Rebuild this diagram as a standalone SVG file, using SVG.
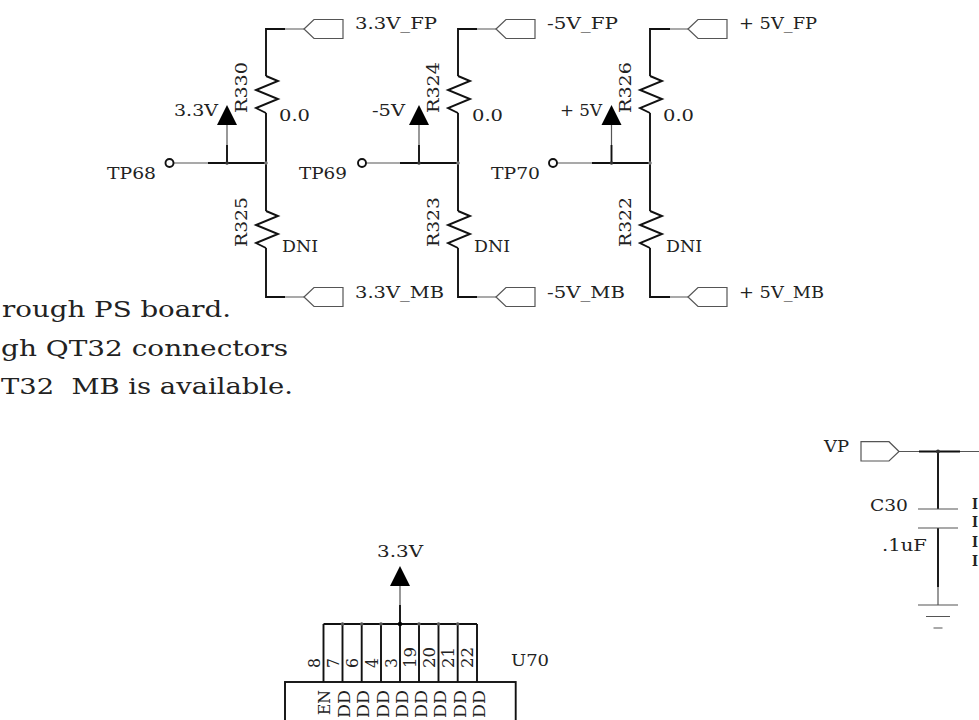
<svg xmlns="http://www.w3.org/2000/svg" width="979" height="720" viewBox="0 0 979 720">
<defs>
<style>
.w{fill:none;stroke:#111;stroke-width:1.9}
.t{fill:none;stroke:#555;stroke-width:1.2}
.a{fill:#000}
text{font-family:"DejaVu Serif","Liberation Serif",serif;font-size:17.5px;fill:#222}
.n{font-size:23px}
.c{font-weight:bold;font-size:14px}
</style>
<g id="res"><path class="w" d="M0 0L12 5L-10 14L12 23L-10 32L0 37"/></g>
<g id="port"><path class="t" d="M0 0L10-9.500H39V9.500H10Z"/></g>
<g id="arrow"><path class="a" d="M0 0L10 20H-10Z"/></g>
</defs>
<rect width="979" height="720" fill="#fff"/>
<g id="connectors">
<path class="w" d="M285 29H266V76M266 113V211M266 248V297H285M208 163H266M227 163V145"/>
<path class="t" d="M285 29H304M285 297H304M173 163H208M227 145V125"/>
<path class="w" d="M477 29H458V76M458 113V211M458 248V297H477M400 163H458M419 163V145"/>
<path class="t" d="M477 29H496M477 297H496M366 163H400M419 145V125"/>
<path class="w" d="M670 29H650V76M650 113V211M650 248V297H670M592 163H650M611.500 163V145"/>
<path class="t" d="M670 29H688M670 297H688M557 163H592M611.500 145V125"/>
<path class="w" d="M400 605V624M323.500 624H477M323.500 624V682M342.500 624V682M361.700 624V682M381 624V682M400 624V682M419 624V682M438.500 624V682M457.700 624V682M477 624V682"/>
<path class="t" d="M400 586V605M899 451.500H919M960 451.500H979"/>
<path class="w" d="M919 451.500H960M938 451.500V509M938 528V587"/>
<path class="t" d="M938 587V605"/>
<circle cx="227" cy="163" r="1.800" fill="#333"/><circle cx="266" cy="163" r="1.800" fill="#777"/>
<circle cx="419" cy="163" r="1.800" fill="#333"/><circle cx="458" cy="163" r="1.800" fill="#777"/>
<circle cx="611.500" cy="163" r="1.800" fill="#333"/><circle cx="650" cy="163" r="1.800" fill="#777"/>
<circle cx="342.500" cy="624" r="1.800" fill="#555"/><circle cx="361.700" cy="624" r="1.800" fill="#555"/><circle cx="381" cy="624" r="1.800" fill="#555"/><circle cx="400" cy="624" r="2.200" fill="#000"/><circle cx="419" cy="624" r="1.800" fill="#555"/><circle cx="438.500" cy="624" r="1.800" fill="#555"/><circle cx="457.700" cy="624" r="1.800" fill="#555"/>
<circle cx="938" cy="451.500" r="2" fill="#333"/>
</g>
<g id="R330"><use href="#res" x="266" y="76"/><text transform="translate(246.500 113) rotate(-90)" textLength="51" lengthAdjust="spacingAndGlyphs">R330</text><text x="279" y="120.500" textLength="31" lengthAdjust="spacingAndGlyphs">0.0</text></g>
<g id="R325"><use href="#res" x="266" y="211"/><text transform="translate(246.500 247) rotate(-90)" textLength="50" lengthAdjust="spacingAndGlyphs">R325</text><text x="282" y="251.500" textLength="36" lengthAdjust="spacingAndGlyphs">DNI</text></g>
<g id="R324"><use href="#res" x="458" y="76"/><text transform="translate(439 113) rotate(-90)" textLength="51" lengthAdjust="spacingAndGlyphs">R324</text><text x="472" y="120.500" textLength="31" lengthAdjust="spacingAndGlyphs">0.0</text></g>
<g id="R323"><use href="#res" x="458" y="211"/><text transform="translate(439 247) rotate(-90)" textLength="50" lengthAdjust="spacingAndGlyphs">R323</text><text x="474" y="251.500" textLength="36" lengthAdjust="spacingAndGlyphs">DNI</text></g>
<g id="R326"><use href="#res" x="650" y="76"/><text transform="translate(631 113) rotate(-90)" textLength="51" lengthAdjust="spacingAndGlyphs">R326</text><text x="663" y="120.500" textLength="31" lengthAdjust="spacingAndGlyphs">0.0</text></g>
<g id="R322"><use href="#res" x="650" y="211"/><text transform="translate(631 247) rotate(-90)" textLength="50" lengthAdjust="spacingAndGlyphs">R322</text><text x="666" y="251.500" textLength="36" lengthAdjust="spacingAndGlyphs">DNI</text></g>
<g id="P33FP"><use href="#port" x="304" y="29"/><text x="355" y="29" textLength="82" lengthAdjust="spacingAndGlyphs">3.3V_FP</text></g>
<g id="P5NFP"><use href="#port" x="496" y="29"/><text x="547" y="29" textLength="71" lengthAdjust="spacingAndGlyphs">-5V_FP</text></g>
<g id="P5PFP"><use href="#port" x="688" y="29"/><text x="739" y="29" textLength="78" lengthAdjust="spacingAndGlyphs">+ 5V_FP</text></g>
<g id="P33MB"><use href="#port" x="304" y="297"/><text x="355" y="298" textLength="89" lengthAdjust="spacingAndGlyphs">3.3V_MB</text></g>
<g id="P5NMB"><use href="#port" x="496" y="297"/><text x="547" y="298" textLength="78" lengthAdjust="spacingAndGlyphs">-5V_MB</text></g>
<g id="P5PMB"><use href="#port" x="688" y="297"/><text x="739" y="298" textLength="85" lengthAdjust="spacingAndGlyphs">+ 5V_MB</text></g>
<g id="V33"><use href="#arrow" x="227" y="105"/><text x="174" y="116" textLength="44" lengthAdjust="spacingAndGlyphs">3.3V</text></g>
<g id="V5N"><use href="#arrow" x="419" y="105"/><text x="372" y="116" textLength="33" lengthAdjust="spacingAndGlyphs">-5V</text></g>
<g id="V5P"><use href="#arrow" x="611.500" y="105"/><text x="560" y="116" textLength="42" lengthAdjust="spacingAndGlyphs">+ 5V</text></g>
<g id="TP68"><circle class="w" cx="169.500" cy="163" r="4"/><text x="107" y="179" textLength="49" lengthAdjust="spacingAndGlyphs">TP68</text></g>
<g id="TP69"><circle class="w" cx="362" cy="163" r="4"/><text x="299" y="179" textLength="48" lengthAdjust="spacingAndGlyphs">TP69</text></g>
<g id="TP70"><circle class="w" cx="553" cy="163" r="4"/><text x="491" y="179" textLength="49" lengthAdjust="spacingAndGlyphs">TP70</text></g>
<g id="note">
<text class="n" x="2" y="317" textLength="229" lengthAdjust="spacingAndGlyphs">rough PS board.</text>
<text class="n" x="1" y="356" textLength="287" lengthAdjust="spacingAndGlyphs">gh QT32 connectors</text>
<text class="n" x="1" y="394" textLength="292" lengthAdjust="spacingAndGlyphs" xml:space="preserve">T32  MB is available.</text>
</g>
<g id="U70">
<use href="#arrow" x="400" y="566"/><text x="377" y="556.500" textLength="46" lengthAdjust="spacingAndGlyphs">3.3V</text>
<rect class="w" x="285" y="682" width="230.700" height="60"/>
<text x="511" y="666" textLength="38" lengthAdjust="spacingAndGlyphs">U70</text>
<text transform="translate(320 668) rotate(-90)" textLength="10" lengthAdjust="spacingAndGlyphs">8</text><text transform="translate(339 668) rotate(-90)" textLength="10" lengthAdjust="spacingAndGlyphs">7</text><text transform="translate(358 668) rotate(-90)" textLength="10" lengthAdjust="spacingAndGlyphs">6</text><text transform="translate(378 668) rotate(-90)" textLength="10" lengthAdjust="spacingAndGlyphs">4</text><text transform="translate(397 668) rotate(-90)" textLength="10" lengthAdjust="spacingAndGlyphs">3</text><text transform="translate(416 668) rotate(-90)" textLength="21" lengthAdjust="spacingAndGlyphs">19</text><text transform="translate(435 668) rotate(-90)" textLength="21" lengthAdjust="spacingAndGlyphs">20</text><text transform="translate(454 668) rotate(-90)" textLength="21" lengthAdjust="spacingAndGlyphs">21</text><text transform="translate(473 668) rotate(-90)" textLength="21" lengthAdjust="spacingAndGlyphs">22</text>
<text transform="translate(330 715) rotate(-90)" textLength="25" lengthAdjust="spacingAndGlyphs">EN</text>
<text transform="translate(350 718) rotate(-90)" textLength="28" lengthAdjust="spacingAndGlyphs">DD</text><text transform="translate(369 718) rotate(-90)" textLength="28" lengthAdjust="spacingAndGlyphs">DD</text><text transform="translate(388.500 718) rotate(-90)" textLength="28" lengthAdjust="spacingAndGlyphs">DD</text><text transform="translate(408 718) rotate(-90)" textLength="28" lengthAdjust="spacingAndGlyphs">DD</text><text transform="translate(427 718) rotate(-90)" textLength="28" lengthAdjust="spacingAndGlyphs">DD</text><text transform="translate(446 718) rotate(-90)" textLength="28" lengthAdjust="spacingAndGlyphs">DD</text><text transform="translate(465.500 718) rotate(-90)" textLength="28" lengthAdjust="spacingAndGlyphs">DD</text><text transform="translate(485 718) rotate(-90)" textLength="28" lengthAdjust="spacingAndGlyphs">DD</text>
</g>
<g id="VP"><path class="t" d="M899 451.500L889 441.700H861V461H889Z"/><text x="824" y="452" textLength="25" lengthAdjust="spacingAndGlyphs">VP</text></g>
<g id="C30">
<path class="t" d="M918 509H958M918 528H958"/>
<text x="870" y="511" textLength="38" lengthAdjust="spacingAndGlyphs">C30</text><text x="882" y="551" textLength="45" lengthAdjust="spacingAndGlyphs">.1uF</text>
</g>
<g id="cut"><text class="c" x="972" y="509" textLength="6" lengthAdjust="spacingAndGlyphs">I</text><text class="c" x="972" y="527" textLength="6" lengthAdjust="spacingAndGlyphs">I</text><text class="c" x="972" y="547" textLength="6" lengthAdjust="spacingAndGlyphs">I</text><text class="c" x="972" y="566" textLength="6" lengthAdjust="spacingAndGlyphs">I</text></g>
<g id="GND"><path class="t" d="M918 605H958M926 616.500H950M933.500 628H942.500"/></g>
</svg>
